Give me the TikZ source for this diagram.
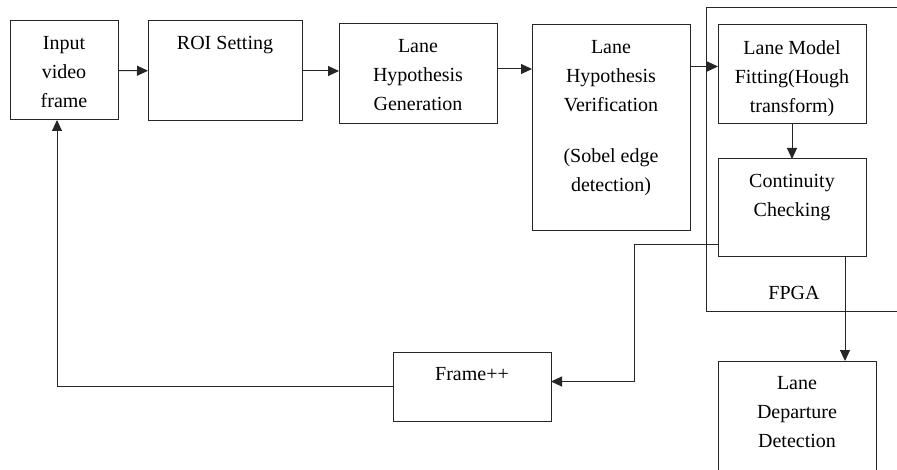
\documentclass[tikz,border=0pt]{standalone}
\usepackage{fontspec}
\setmainfont{Liberation Serif}
\usetikzlibrary{arrows.meta}

\begin{document}
\begin{tikzpicture}[x=1pt, y=-1pt,
 font=\fontsize{20}{29}\selectfont,
 line width=1pt,
    blk/.style 2 args = {rectangle, draw=black!85,% boxes of the flow
                minimum width=#1pt, minimum height=#2pt,
                inner sep=0pt, outer sep=0pt},
    txt/.style = {label={[anchor=north, inner sep=0pt, yshift=-15pt,
                align=center]north:{#1}}},% text sits at the top of a box
    arr/.style = {draw=black!85, -{Triangle[length=11pt,width=10pt]}},
                        ]
\useasboundingbox (0,0) rectangle (897,470);
\clip (0,0) rectangle (897,470);
% top row
\node[blk={108}{99}, txt={Input\\video\\frame}] (in) at (64,70.5) {};
\node[blk={154}{100}, txt={ROI Setting}] (roi) at (225,71) {};
\node[blk={158}{100}, txt={Lane\\Hypothesis\\Generation}] (gen) at (418,74) {};
\node[blk={158}{206}, txt={Lane\\Hypothesis\\Verification\\[22pt](Sobel edge\\detection)}] (ver) at (611,128) {};
% FPGA part
\node[blk={220}{304}] (fpga) at (816,160) {};
\node (fpgalbl) at (794,293) {FPGA};
\node[blk={148}{99}, txt={Lane Model\\Fitting(Hough\\transform)}] (fit) at (792,74.5) {};
\node[blk={148}{98}, txt={Continuity\\Checking}] (cont) at (792,208) {};
% bottom row
\node[blk={158}{118}, txt={Lane\\Departure\\Detection}] (dep) at (797,420) {};
\node[blk={158}{69}, txt={Frame++}] (frm) at (472,386.5) {};

\draw[arr] (in) -- (roi);
\draw[arr] (roi.east) -- (roi.east -| gen.west);
\draw[arr] (gen.east) ++(0,-5) -- ([yshift=5pt]ver.west |- gen.east);
\draw[arr] (ver.east |- fit.west) ++(0,-8) -- ([yshift=8pt]fit.west);
\draw[arr] (fit) -- (cont);
\draw[arr] (cont.south) ++(53,0) -- ([xshift=48pt]dep.north);
\draw[arr] (cont.west) ++(0,37) -- ++(-84,0) |- ([yshift=5pt]frm.east);
\draw[arr] (frm.west) -| ([xshift=-7pt]in.south);
\end{tikzpicture}
\end{document}
